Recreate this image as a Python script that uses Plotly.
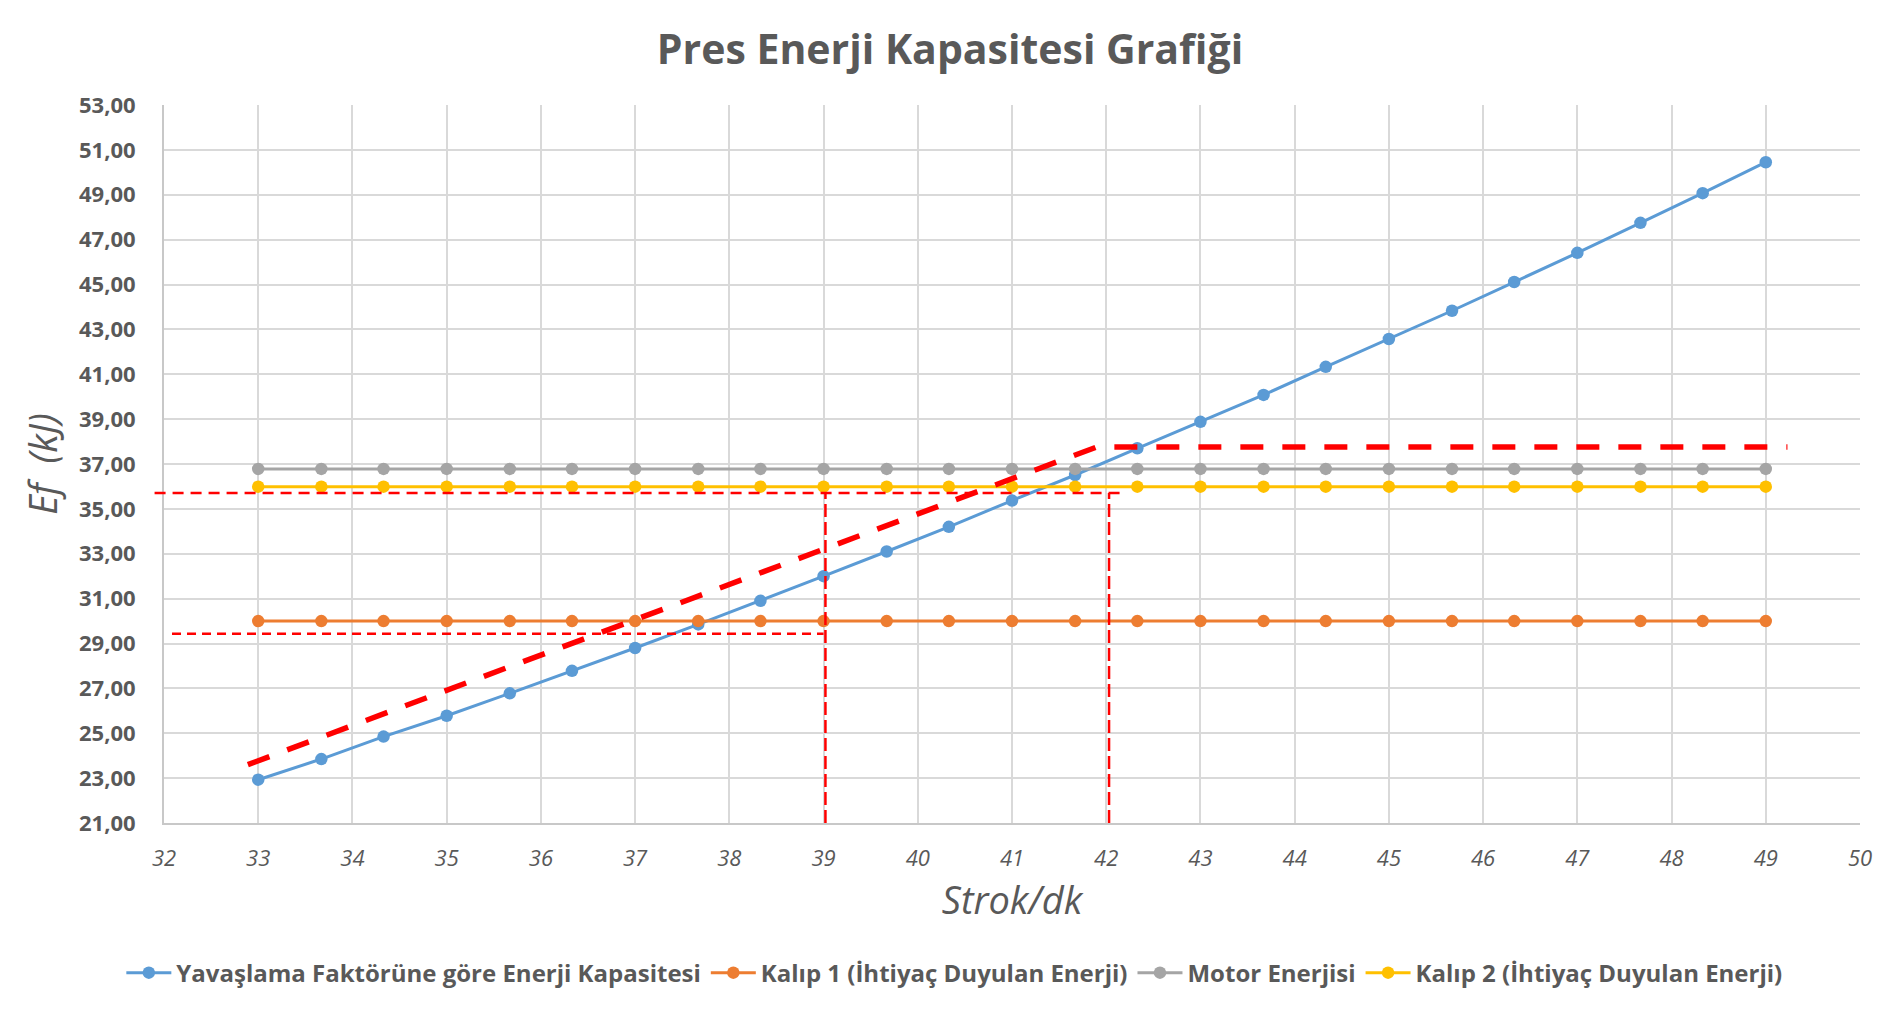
import plotly.graph_objects as go

# ---- data ----
strok = [33.00, 33.67, 34.33, 35.00, 35.67, 36.33, 37.00, 37.67, 38.33, 39.00,
         39.67, 40.33, 41.00, 41.67, 42.33, 43.00, 43.67, 44.33, 45.00, 45.67,
         46.33, 47.00, 47.67, 48.33, 49.00]
yavaslama = [22.93, 23.85, 24.85, 25.78, 26.78, 27.78, 28.80, 29.85, 30.90, 32.00,
             33.10, 34.20, 35.37, 36.51, 37.70, 38.88, 40.08, 41.33, 42.57, 43.83,
             45.11, 46.41, 47.75, 49.07, 50.45]
kalip1 = [30.00] * 25
motor = [36.78] * 25
kalip2 = [35.99] * 25

series_names = ["Yavaşlama Faktörüne göre Enerji Kapasitesi",
                "Kalıp 1 (İhtiyaç Duyulan Enerji)",
                "Motor Enerjisi",
                "Kalıp 2 (İhtiyaç Duyulan Enerji)"]

# hand-drawn red annotation lines (data coordinates)
thick_x = [32.89, 41.90, 49.23]
thick_y = [23.60, 37.76, 37.76]
upper_h_x = [31.90, 42.17]
upper_h_y = 35.71
lower_h_x = [32.085, 39.00]
lower_h_y = 29.43
vert_x = [39.02, 42.03]
vert_y = [21.0, 35.71]

x_range = [32, 50]
y_range = [21, 53]

GREY_TXT = "#595959"
FONT = "Open Sans"

fig = go.Figure()

colors = ["#5B9BD5", "#ED7D31", "#A5A5A5", "#FFC000"]
for name, ys, c in zip(series_names, [yavaslama, kalip1, motor, kalip2], colors):
    fig.add_trace(go.Scatter(
        x=strok, y=ys, name=name, mode="lines+markers",
        line=dict(color=c, width=3),
        marker=dict(color=c, size=12.5),
    ))

# thick red dashed line
fig.add_trace(go.Scatter(
    x=thick_x, y=thick_y, mode="lines", showlegend=False, hoverinfo="skip",
    line=dict(color="#FF0000", width=5.5, dash="23px,19px"),
))

thin = dict(color="#FF0000", width=2.5, dash="11px,7px")

# upper horizontal (extends left of the axis) -> paper coords computed from axis range
def xp(v):
    return (v - x_range[0]) / (x_range[1] - x_range[0])

def yp(v):
    return (v - y_range[0]) / (y_range[1] - y_range[0])

fig.add_shape(type="line", xref="paper", yref="paper",
              x0=xp(upper_h_x[0]), x1=xp(upper_h_x[1]),
              y0=yp(upper_h_y), y1=yp(upper_h_y), line=thin)
fig.add_shape(type="line", xref="x", yref="y",
              x0=lower_h_x[0], x1=lower_h_x[1], y0=lower_h_y, y1=lower_h_y,
              line=dict(color="#FF0000", width=2.5, dash="9px,6px"))
for vx in vert_x:
    fig.add_shape(type="line", xref="x", yref="y",
                  x0=vx, x1=vx, y0=vert_y[0], y1=vert_y[1],
                  line=dict(color="#FF0000", width=2.5, dash="13px,5px"))

fig.update_layout(
    width=1900, height=1012,
    paper_bgcolor="white", plot_bgcolor="white",
    separators=", ",
    margin=dict(l=164, r=40, t=105, b=189),
    title=dict(text="Pres Enerji Kapasitesi Grafiği", x=0.5, xanchor="center",
               y=1 - 50 / 1012, yanchor="middle",
               font=dict(family=FONT, size=41, color=GREY_TXT, weight=700)),
    legend=dict(orientation="h", x=0.466, xanchor="center", y=-0.209, yanchor="middle",
                font=dict(family=FONT, size=24, color=GREY_TXT, weight=700),
                itemwidth=45, tracegroupgap=0),
    showlegend=True,
)

fig.update_xaxes(
    range=x_range, dtick=1, tick0=32,
    showgrid=True, gridcolor="#D9D9D9", gridwidth=2,
    showline=True, linecolor="#C8C8C8", linewidth=2, mirror=False,
    zeroline=False, ticks="", ticklabelstandoff=15,
    tickfont=dict(family=FONT, size=22, color=GREY_TXT, style="italic"),
    title=dict(text="Strok/dk", standoff=16,
               font=dict(family=FONT, size=38, color=GREY_TXT, style="italic")),
)
fig.update_yaxes(
    range=y_range, dtick=2, tick0=21, tickformat=".2f",
    showgrid=True, gridcolor="#D9D9D9", gridwidth=2,
    showline=True, linecolor="#C8C8C8", linewidth=2, mirror=False,
    zeroline=False, ticks="", ticklabelstandoff=22,
    tickfont=dict(family=FONT, size=22, color=GREY_TXT, weight=700),
    title=dict(text="Ef\u00a0\u00a0(kJ)", standoff=10,
               font=dict(family=FONT, size=38, color=GREY_TXT, style="italic")),
)

fig.write_html("out.html")
